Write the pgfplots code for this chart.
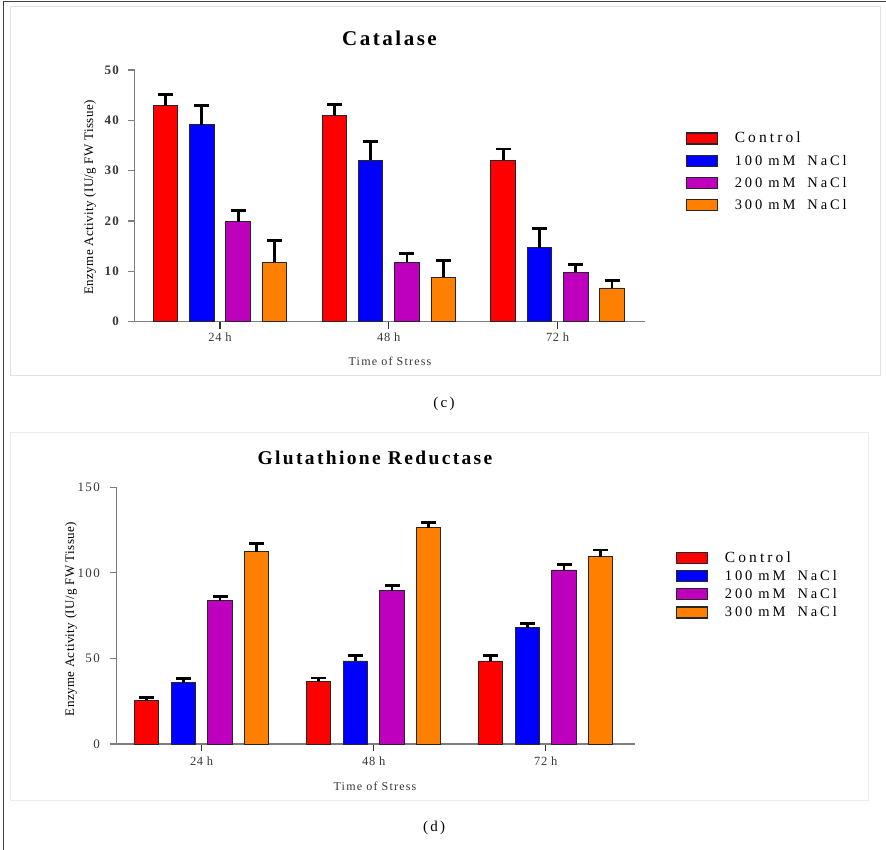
\documentclass[border=0pt]{standalone}
\usepackage{pgfplots}
\pgfplotsset{compat=1.18}
\usepackage{pgfplotstable}
\usepackage{fontspec}
\setmainfont{Liberation Serif}
\newfontfamily\ftitle{Liberation Serif}[LetterSpace=12]
\newfontfamily\fls{Liberation Serif}[LetterSpace=10]
\newfontfamily\ftick{Liberation Serif}[LetterSpace=5]
\newfontfamily\flab{Liberation Serif}[LetterSpace=3]
\newfontfamily\fleg{Liberation Serif}[LetterSpace=20]
\newfontfamily\fcap{Liberation Serif}[LetterSpace=15]

\definecolor{cred}{RGB}{255,0,0}
\definecolor{cblue}{RGB}{0,0,255}
\definecolor{cmag}{RGB}{190,0,190}
\definecolor{corange}{RGB}{255,128,0}
\definecolor{axgray}{RGB}{125,125,125}
\definecolor{txtgray}{RGB}{55,55,55}

% Catalase
\pgfplotstableread{
x  c1   e1   c2   e2   c3   e3   c4   e4
0  42.9 2.3  39.1 3.8  19.9 2.2  11.8 4.3
1  40.9 2.3  32.1 3.7  11.8 1.8  8.8  3.3
2  32.1 2.2  14.7 3.8  9.8  1.5  6.7  1.5
}\tabc

% Glutathione Reductase
\pgfplotstableread{
x  c1    e1   c2   e2   c3    e3   c4    e4
0  25.7  1.6  35.8 2.5  83.8  2.4  112.4 4.8
1  36.8  1.8  48.5 3.2  89.6  3.0  126.4 3.2
2  48.5  3.2  68.0 2.6  101.7 3.2  109.3 4.1
}\tabd

\newcommand{\salt}[1]{#1\hspace{6pt}mM\hspace{12pt}NaCl}

\pgfplotsset{
  mybase/.style={
    scale only axis,
    axis lines=left,
    axis line style={-, axgray, line width=1.1pt},
    xtick={0,1,2},
    xticklabels={24 h,48 h,72 h},
    tick align=outside,
    major tick length=7pt,
    xtick style={black!80, line width=1.2pt},
    ytick style={axgray, line width=1.1pt},
    /pgf/number format/assume math mode=true,
    ymin=0,
    clip=false,
    legend cell align=left,
    legend image code/.code={\draw[##1, line width=1.2pt] (0pt,-5.5pt) rectangle (31pt,5.5pt);},
  },
  mybar/.style={
    ybar, bar shift=0pt, fill=#1, draw=black!85, line width=0.9pt,
    error bars/y dir=plus, error bars/y explicit,
    error bars/error bar style={line width=2.8pt, black},
    error bars/error mark options={rotate=90, line width=2.8pt, mark size=7.5pt, black},
  },
}

\begin{document}
\begin{tikzpicture}
\path[use as bounding box] (0pt,0pt) rectangle (886pt,850pt);
% frames
\draw[black!12, line width=0.8pt] (10pt,475pt) rectangle (880pt,844pt);
\draw[black!8, line width=0.8pt] (10pt,50pt) rectangle (868pt,418pt);
\draw[black!75, line width=0.9pt] (3pt,0pt) -- (3pt,849pt) -- (886pt,849pt);

% ---------- Catalase ----------
\begin{axis}[mybase,
  at={(134.5pt,528.3pt)}, anchor=south west,
  width=510.5pt, height=251.7pt,
  xmin=-0.5065, xmax=2.518, ymax=50,
  ytick={0,10,20,30,40,50},
  bar width=24.5pt,
  xticklabel style={font=\ftick\fontsize{12.5}{14}\selectfont, text=txtgray, inner sep=0pt, yshift=-3.7pt},
  yticklabel style={font=\fls\bfseries\fontsize{13}{15}\selectfont, text=txtgray, inner sep=0pt, xshift=-8.4pt},
  legend style={at={(axis description cs:1.0791,0.7529)}, anchor=north west,
    draw=none, fill=none, inner sep=0pt,
    font=\fleg\fontsize{14.5}{16}\selectfont,
    nodes={inner sep=0pt, text height=10pt, text depth=1pt},
    column sep=17pt, row sep=10pt},
]
\addplot[mybar=cred] table[x expr=\thisrow{x}-0.3225, y=c1, y error=e1]{\tabc};
\addplot[mybar=cblue] table[x expr=\thisrow{x}-0.1075, y=c2, y error=e2]{\tabc};
\addplot[mybar=cmag] table[x expr=\thisrow{x}+0.1075, y=c3, y error=e3]{\tabc};
\addplot[mybar=corange] table[x expr=\thisrow{x}+0.3225, y=c4, y error=e4]{\tabc};
\legend{{\fontsize{15.5}{16}\selectfont Control}, \salt{100}, \salt{200}, \salt{300}}
\end{axis}

% ---------- Glutathione Reductase ----------
\begin{axis}[mybase,
  at={(116.7pt,106pt)}, anchor=south west,
  width=518.3pt, height=256.7pt,
  xmin=-0.494, xmax=2.519, ymax=150,
  ytick={0,50,100,150},
  bar width=24.3pt,
  xticklabel style={font=\ftick\fontsize{12.5}{14}\selectfont, text=txtgray, inner sep=0pt, yshift=-5.5pt},
  yticklabel style={font=\fls\fontsize{13}{15}\selectfont, text=txtgray, inner sep=0pt, xshift=-9.7pt},
  legend style={at={(axis description cs:1.0781,0.7495)}, anchor=north west,
    draw=none, fill=none, inner sep=0pt,
    font=\fleg\fontsize{14.5}{16}\selectfont,
    nodes={inner sep=0pt, text height=10pt, text depth=1pt},
    column sep=17pt, row sep=6pt},
]
\addplot[mybar=cred] table[x expr=\thisrow{x}-0.3201, y=c1, y error=e1]{\tabd};
\addplot[mybar=cblue] table[x expr=\thisrow{x}-0.1067, y=c2, y error=e2]{\tabd};
\addplot[mybar=cmag] table[x expr=\thisrow{x}+0.1067, y=c3, y error=e3]{\tabd};
\addplot[mybar=corange] table[x expr=\thisrow{x}+0.3201, y=c4, y error=e4]{\tabd};
\legend{{\fontsize{15.5}{16}\selectfont Control}, \salt{100}, \salt{200}, \salt{300}}
\end{axis}

% titles, labels, captions
\node[anchor=base] at (389.5pt,804pt) {\ftitle\bfseries\fontsize{21}{24}\selectfont Catalase};
\node[anchor=base] at (375pt,385pt) {\ftitle\bfseries\fontsize{19.5}{22}\selectfont Glutathione Reductase};
\node[rotate=90, anchor=center] at (90pt,652.5pt) {\flab\fontsize{13}{15}\selectfont Enzyme Activity (IU/g FW Tissue)};
\node[rotate=90, anchor=center] at (71pt,231pt) {\flab\fontsize{13}{15}\selectfont Enzyme Activity (IU/g FW Tissue)};
\node[anchor=base, text=txtgray] at (390pt,484pt) {\fls\fontsize{12}{14}\selectfont Time of Stress};
\node[anchor=base, text=txtgray] at (375pt,59pt) {\fls\fontsize{12}{14}\selectfont Time of Stress};
\node[anchor=base] at (444pt,442pt) {\fcap\fontsize{15}{17}\selectfont (c)};
\node[anchor=base] at (434pt,18pt) {\fcap\fontsize{15}{17}\selectfont (d)};
\end{tikzpicture}
\end{document}
